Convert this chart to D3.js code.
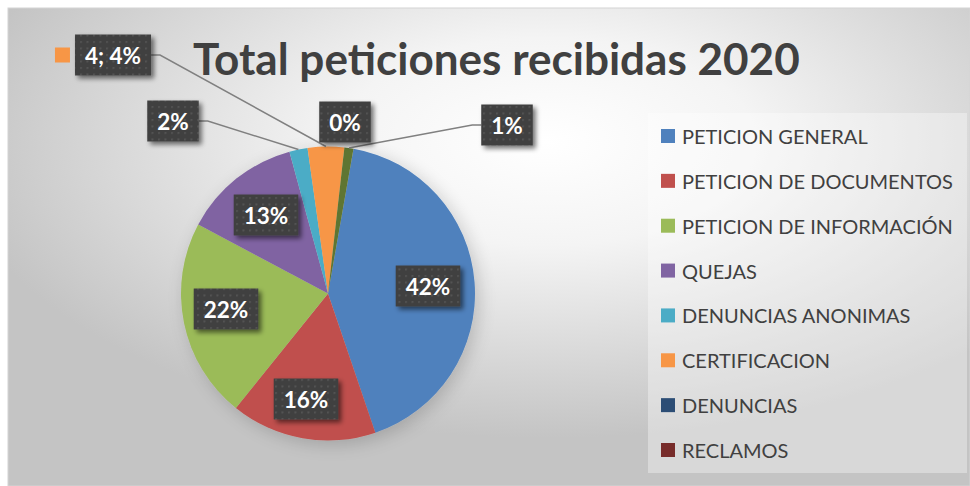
<!DOCTYPE html>
<html><head><meta charset="utf-8">
<script src="https://cdn.jsdelivr.net/npm/d3@7"></script>
<style>html,body{margin:0;padding:0;background:#fff;}svg{display:block;}</style>
</head><body>
<svg id="c" width="970" height="486"></svg>
<script>
// ---- data ----
const categories = ["PETICION GENERAL","PETICION DE DOCUMENTOS","PETICION DE INFORMACIÓN","QUEJAS","DENUNCIAS ANONIMAS","CERTIFICACION","DENUNCIAS","RECLAMOS","OTROS"];
const values = [42, 16, 22, 13, 2, 4, 0, 0, 1];
const colors = ["#4F81BD","#C0504D","#9BBB59","#8064A2","#4BACC6","#F79646","#2C4D75","#772C2A","#5F7530"];
const legendCount = 8; // legend in the reference shows first 8 entries
const title = "Total peticiones recibidas 2020";

// ---- layout (not data) ----
const W = 970, H = 486;
const cx = 328, cy = 293.5, R = 147;
const startDeg = 10;
// label box centers and leader settings, per slice index
const labelLayout = [
  {x:428, y:286},
  {x:306, y:399},
  {x:226, y:309},
  {x:266, y:215},
  {x:173, y:121, leader:"right"},
  {x:113, y:55, leader:"right", key:true, showValue:true},
  {x:345, y:122},
  null,
  {x:507, y:125, leader:"left"}
];

const svg = d3.select("#c");
const defs = svg.append("defs");

// background gradient
const bg = defs.append("radialGradient").attr("id","bgGrad")
  .attr("cx",0.56).attr("cy",0.28).attr("r",0.62).attr("fx",0.56).attr("fy",0.28);
bg.append("stop").attr("offset","0%").attr("stop-color","#ffffff");
bg.append("stop").attr("offset","35%").attr("stop-color","#f4f4f4");
bg.append("stop").attr("offset","100%").attr("stop-color","#c4c4c4");

// label pattern
const pat = defs.append("pattern").attr("id","dots").attr("patternUnits","userSpaceOnUse")
  .attr("width",6.5).attr("height",6.5);
pat.append("rect").attr("width",6.5).attr("height",6.5).attr("fill","#3f3f3f");
pat.append("rect").attr("x",2).attr("y",2).attr("width",2).attr("height",2).attr("fill","#555555");

// shadows
const sh = defs.append("filter").attr("id","boxShadow").attr("x","-30%").attr("y","-30%").attr("width","170%").attr("height","170%");
sh.append("feGaussianBlur").attr("in","SourceAlpha").attr("stdDeviation",2.5).attr("result","b");
sh.append("feOffset").attr("in","b").attr("dx",3).attr("dy",3).attr("result","o");
sh.append("feComponentTransfer").attr("in","o").attr("result","o2")
  .append("feFuncA").attr("type","linear").attr("slope",0.55);
const m1 = sh.append("feMerge"); m1.append("feMergeNode").attr("in","o2"); m1.append("feMergeNode").attr("in","SourceGraphic");

const ps = defs.append("filter").attr("id","pieShadow").attr("x","-30%").attr("y","-30%").attr("width","160%").attr("height","160%");
ps.append("feGaussianBlur").attr("in","SourceAlpha").attr("stdDeviation",9).attr("result","b");
ps.append("feOffset").attr("in","b").attr("dx",4).attr("dy",4).attr("result","o");
ps.append("feComponentTransfer").attr("in","o").attr("result","o2")
  .append("feFuncA").attr("type","linear").attr("slope",0.18);
const m2 = ps.append("feMerge"); m2.append("feMergeNode").attr("in","o2"); m2.append("feMergeNode").attr("in","SourceGraphic");

// background
svg.append("rect").attr("x",0).attr("y",0).attr("width",W).attr("height",H).attr("fill","#fff");
svg.append("rect").attr("x",8).attr("y",8).attr("width",W-8).attr("height",H-8)
  .attr("fill","url(#bgGrad)").attr("stroke","#d4d4d4").attr("stroke-width",1);

// helper: fit font size to a width
function fitText(sel, targetW){
  const fs = parseFloat(sel.attr("font-size"));
  const w = sel.node().getComputedTextLength();
  sel.attr("font-size", fs*targetW/w);
}

// title
const t = svg.append("text").text(title).attr("x",193).attr("y",75)
  .attr("font-family","Lato, 'Open Sans', sans-serif").attr("font-weight","bold")
  .attr("font-size",40).attr("fill","#404040");
fitText(t, 607);

// pie
const total = d3.sum(values);
const pie = d3.pie().sort(null).value(d=>d).startAngle(startDeg*Math.PI/180).endAngle((startDeg+360)*Math.PI/180);
const arcs = pie(values);
const arc = d3.arc().innerRadius(0).outerRadius(R);
const color = d3.scaleOrdinal().domain(categories).range(colors);

const gp = svg.append("g").attr("transform",`translate(${cx},${cy})`).attr("filter","url(#pieShadow)");
gp.selectAll("path").data(arcs).join("path")
  .attr("d",arc).attr("fill",(d,i)=>color(categories[i]));

// leader lines
const gl = svg.append("g");
arcs.forEach((d,i)=>{
  const L = labelLayout[i];
  if(!L || !L.leader) return;
  const mid = (d.startAngle+d.endAngle)/2;
  const px = cx + R*Math.sin(mid), py = cy - R*Math.cos(mid);
  L._px = px; L._py = py;
});

// labels
const gLab = svg.append("g");
const fmtPct = v => Math.round(v/total*100)+"%";
arcs.forEach((d,i)=>{
  const L = labelLayout[i];
  if(!L) return;
  const txt = L.showValue ? `${values[i]}; ${fmtPct(values[i])}` : fmtPct(values[i]);
  const g = gLab.append("g");
  const rect = g.append("rect").attr("fill","url(#dots)").attr("filter","url(#boxShadow)");
  const tx = g.append("text").text(txt).attr("x",L.x).attr("y",L.y)
    .attr("text-anchor","middle").attr("dominant-baseline","central")
    .attr("font-family","Lato, 'Open Sans', sans-serif").attr("font-weight","bold")
    .attr("font-size",22.5).attr("fill","#ffffff");
  const tw = tx.node().getComputedTextLength();
  const bw = tw + 20, bh = 41;
  rect.attr("x",L.x-bw/2).attr("y",L.y-bh/2).attr("width",bw).attr("height",bh);
  if(L.key){
    g.append("rect").attr("x",L.x-bw/2-20).attr("y",L.y-7.5).attr("width",15).attr("height",15)
      .attr("fill",color(categories[i]));
  }
  if(L.leader){
    let x0, x1;
    if(L.leader==="right"){ x0 = L.x+bw/2; x1 = x0+9; }
    else { x0 = L.x-bw/2; x1 = x0-9; }
    gl.append("path").attr("d",`M${x0},${L.y}L${x1},${L.y}L${L._px},${L._py}`)
      .attr("fill","none").attr("stroke","#808080").attr("stroke-width",1.5);
  }
});

// legend
const lg = svg.append("g");
lg.append("rect").attr("x",648).attr("y",113).attr("width",319).attr("height",360)
  .attr("fill","#ffffff").attr("fill-opacity",0.35);
const items = categories.slice(0, legendCount);
const rowY = d3.scalePoint().domain(items).range([136,450]);
let legFs = 21;
const probe = lg.append("text").text("PETICION DE DOCUMENTOS")
  .attr("font-family","Lato, 'Open Sans', sans-serif").attr("font-size",21).attr("opacity",0);
legFs = 21*271/probe.node().getComputedTextLength();
probe.remove();
items.forEach(c=>{
  const y = rowY(c);
  lg.append("rect").attr("x",661).attr("y",y-7).attr("width",14).attr("height",14).attr("fill",color(c));
  lg.append("text").text(c).attr("x",682).attr("y",y).attr("dominant-baseline","central")
    .attr("font-family","Lato, 'Open Sans', sans-serif").attr("font-size",legFs).attr("fill","#404040");
});
</script>
</body></html>
